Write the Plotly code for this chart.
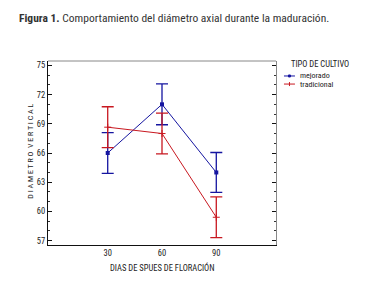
import plotly.graph_objects as go

dias = [30, 60, 90]
mejorado = [66.0, 71.0, 64.0]
tradicional = [68.65, 68.0, 59.4]
err_mejorado = [2.1, 2.1, 2.05]
err_tradicional = [2.1, 2.1, 2.1]
x_ticks = [30, 60, 90]
y_ticks = [57, 60, 63, 66, 69, 72, 75]

BLUE = "#1515a0"
RED = "#c81820"
FONT = "Liberation Sans Narrow, Arial Narrow, Roboto Condensed, sans-serif"

fig = go.Figure()
fig.add_trace(go.Scatter(
    x=dias, y=mejorado, mode="lines+markers", name="mejorado",
    line=dict(color=BLUE, width=1),
    marker=dict(symbol="square", size=4, color=BLUE),
    error_y=dict(type="data", array=err_mejorado, color=BLUE, thickness=1.3, width=6),
    showlegend=False))
fig.add_trace(go.Scatter(
    x=dias, y=tradicional, mode="lines+markers", name="tradicional",
    line=dict(color=RED, width=1),
    marker=dict(symbol="cross-thin", size=5, line=dict(color=RED, width=1)),
    error_y=dict(type="data", array=err_tradicional, color=RED, thickness=1.3, width=6),
    showlegend=False))

yr = [56.55, 75.45]
# page has an 8px body margin: shift the figure accordingly
fig.update_layout(
    width=375, height=297,
    margin=dict(l=39.5, r=107, t=52.7, b=60),
    paper_bgcolor="white", plot_bgcolor="white",
    font=dict(family=FONT, size=9, color="#222"),
    xaxis=dict(range=[-3, 123], tickvals=x_ticks, ticks="", showgrid=False, zeroline=False,
               showline=True, linecolor="#111", linewidth=1.3,
               tickfont=dict(size=8.5, family=FONT, color="#222")),
    yaxis=dict(range=yr, tickvals=y_ticks, ticks="inside", ticklen=4, tickcolor="#111",
               showgrid=False, zeroline=False, showline=True, linecolor="#111", linewidth=1.3,
               minor=dict(dtick=1, tick0=57, ticks="inside", ticklen=2, tickcolor="#333"),
               tickfont=dict(size=8.5, family=FONT, color="#222")),
    yaxis2=dict(range=yr, overlaying="y", side="right", tickvals=y_ticks, ticks="inside",
                ticklen=4, tickcolor="#111", showticklabels=False, showgrid=False,
                zeroline=False, showline=True, linecolor="#888", linewidth=1,
                minor=dict(dtick=1, tick0=57, ticks="inside", ticklen=2, tickcolor="#333")),
)
fig.add_trace(go.Scatter(x=[dias[0]], y=[mejorado[0]], yaxis="y2", mode="markers",
                         marker=dict(opacity=0), showlegend=False, hoverinfo="skip"))

fig.add_shape(type="line", xref="paper", yref="paper", x0=0, x1=1, y0=1, y1=1,
              line=dict(color="#888", width=1))

def px_x(p):
    return (p - 47.5) / 228.5

def px_y(p):
    return (245 - p) / 184.3

def note(text, x, y, size, xanchor="center", angle=0, color="#222"):
    fig.add_annotation(xref="paper", yref="paper", x=px_x(x), y=px_y(y), xanchor=xanchor,
                       yanchor="middle", showarrow=False, text=text, textangle=angle,
                       borderpad=0, font=dict(family=FONT, size=size, color=color))

note("<b>Figura 1.</b> Comportamiento del diámetro axial durante la maduración.",
     17, 18, 11.5, xanchor="left", color="#333")
note("D I A M E T R O  V E R T I C A L", 30, 151, 8, angle=-90)
note("DIAS DE SPUES DE FLORACIÓN", 162.5, 268, 8.5)
note("TIPO DE CULTIVO", 290, 64, 8.5, xanchor="left")

for name, col, yy, sym in [("mejorado", BLUE, 75.7, "sq"), ("tradicional", RED, 83.8, "x")]:
    fig.add_shape(type="line", xref="paper", yref="paper", x0=px_x(284), x1=px_x(295),
                  y0=px_y(yy), y1=px_y(yy), line=dict(color=col, width=1))
    if sym == "sq":
        fig.add_shape(type="rect", xref="paper", yref="paper", x0=px_x(288.5), x1=px_x(290.5),
                      y0=px_y(yy + 1), y1=px_y(yy - 1), line=dict(color=col, width=1),
                      fillcolor=col)
    else:
        fig.add_shape(type="line", xref="paper", yref="paper", x0=px_x(289.5), x1=px_x(289.5),
                      y0=px_y(yy + 2), y1=px_y(yy - 2), line=dict(color=col, width=1))
    note(name, 299, yy, 8, xanchor="left")

fig.write_html("out.html")
